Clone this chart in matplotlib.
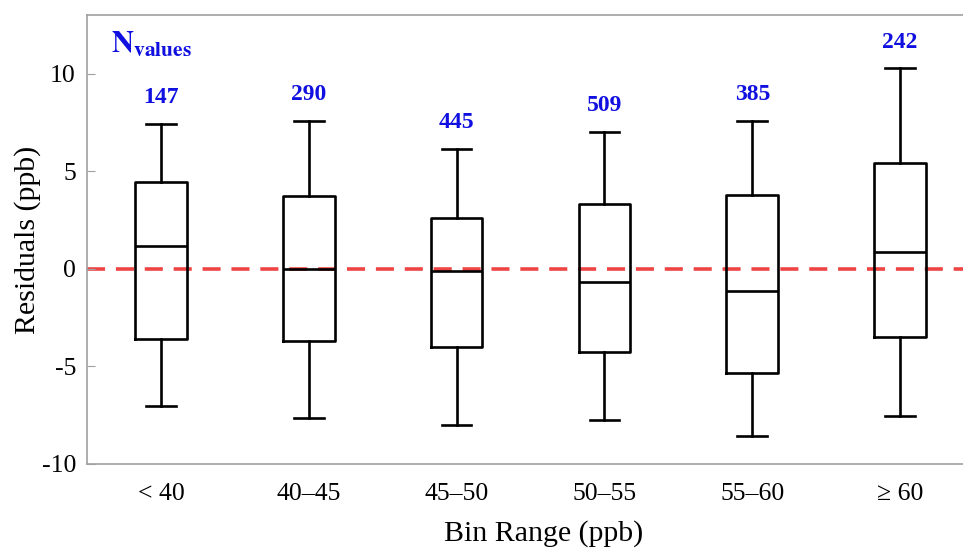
import matplotlib
matplotlib.use("Agg")
import matplotlib.pyplot as plt

categories = ["< 40", "40\u201345", "45\u201350", "50\u201355", "55\u201360", "\u2265 60"]
whisker_high = [7.44, 7.59, 6.15, 7.03, 7.59, 10.26]
q3 = [4.46, 3.74, 2.62, 3.33, 3.79, 5.44]
median = [1.18, 0.0, -0.10, -0.67, -1.13, 0.87]
q1 = [-3.59, -3.69, -4.00, -4.26, -5.33, -3.49]
whisker_low = [-7.03, -7.64, -8.00, -7.74, -8.56, -7.54]
n_values = [147, 290, 445, 509, 385, 242]

plt.rcParams['font.family'] = ['Liberation Serif', 'DejaVu Serif']
plt.rcParams['mathtext.fontset'] = 'stix'

fig = plt.figure(figsize=(9.63, 5.52), dpi=100)
ax = fig.add_axes([87/963, 1-464/552, (974-87)/963, (464-15)/552])

stats = []
for i in range(len(categories)):
    stats.append(dict(whislo=whisker_low[i], q1=q1[i], med=median[i],
                      q3=q3[i], whishi=whisker_high[i], fliers=[]))
pos = list(range(1, len(categories)+1))
lw = 1.9
ax.bxp(stats, positions=pos, widths=0.35, showfliers=False,
       boxprops=dict(color='black', linewidth=lw),
       medianprops=dict(color='black', linewidth=lw),
       whiskerprops=dict(color='black', linewidth=lw),
       capprops=dict(color='black', linewidth=lw),
       capwidths=0.2)

ax.axhline(0, color='#ee4444', linewidth=2.6, linestyle=(0, (5, 3)), zorder=0)

for p, n, wh in zip(pos, n_values, whisker_high):
    ax.text(p, wh + 1.33, str(n), ha='center', va='center', color='#1010e0',
            fontsize=17, fontweight='bold')

ax.text(0.66, 11.45, r'$\mathbf{N}_{\mathbf{values}}$', color='#1010e0',
        fontsize=22, ha='left', va='center')

ax.set_xlim(0.5, 6.5)
ax.set_ylim(-10, 13)
ax.set_yticks([-10, -5, 0, 5, 10])
ax.set_yticklabels(['-10', '-5', '0', '5', '10'])
ax.set_xticks(pos)
ax.set_xticklabels(categories)
for s in ax.spines.values():
    s.set_color('#a0a0a0')
    s.set_linewidth(1.2)
ax.tick_params(axis='y', direction='in', length=6, color='#a0a0a0', labelsize=18.5, pad=8)
ax.tick_params(axis='x', length=0, labelsize=18.5, pad=14)
ax.set_xlabel('Bin Range (ppb)', fontsize=21.5)
ax.set_ylabel('Residuals (ppb)', fontsize=21.5)
ax.xaxis.set_label_coords((544-87)/(974-87), (464-534)/(464-15))
ax.yaxis.set_label_coords((28-87)/(974-87), 0.5)
ax.xaxis.label.set_va('center')
ax.yaxis.label.set_va('center')

fig.savefig('out.png', dpi=100)
